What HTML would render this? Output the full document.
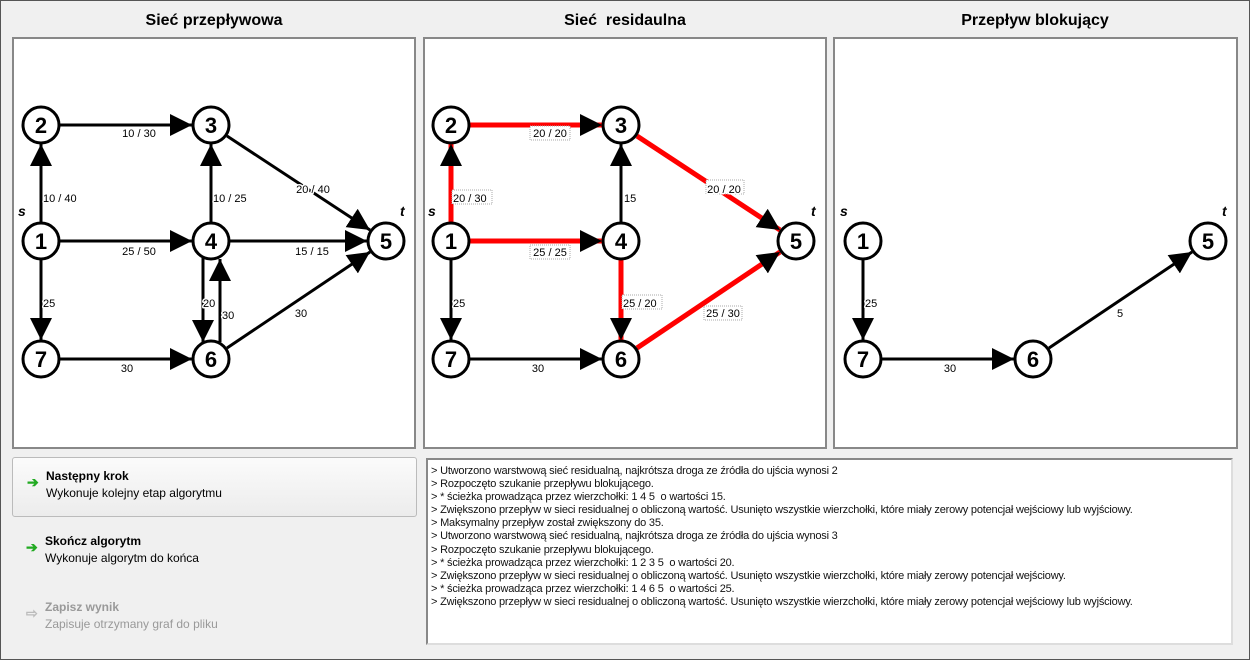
<!DOCTYPE html>
<html><head><meta charset="utf-8"><style>
body{margin:0;width:1250px;height:660px;background:#f0f0f0;font-family:"Liberation Sans",sans-serif;overflow:hidden;position:relative}
.frame{position:absolute;left:0;top:0;width:1248px;height:658px;border:1px solid #555}
.title{position:absolute;top:12px;font-weight:bold;font-size:16px;text-align:center;width:402px}
.log{position:absolute;left:426px;top:458px;width:807px;height:187px;background:#fff;border:2px solid #888;border-right-color:#ddd;border-bottom-color:#ddd;font-size:11px;line-height:13.1px;padding:5px 0 0 3px;box-sizing:border-box;color:#111;letter-spacing:-0.2px}
.btn{position:absolute;left:12px;width:403px;height:58px;font-size:12px}
.btn b{display:block;font-size:12px;margin-bottom:3px}
.btn .t{position:absolute;left:33px;top:11px}
.btn .ic{position:absolute;left:14px;top:16px;color:#2a2;font-size:14px;font-weight:bold}
</style></head><body>
<div class="frame"></div>
<div class="title" style="left:13px">Sieć przepływowa</div>
<div class="title" style="left:424px">Sieć&nbsp; residaulna</div>
<div class="title" style="left:834px">Przepływ blokujący</div>
<svg width="1250" height="660" style="position:absolute;left:0;top:0">
<defs><marker id="a" markerUnits="userSpaceOnUse" markerWidth="24" markerHeight="24" refX="22" refY="11" orient="auto"><path d="M0,0L22,11L0,22z" fill="#000"/></marker></defs>
<g fill="#fff" stroke="#888" stroke-width="2">
<rect x="13" y="38" width="402" height="410"/><rect x="424" y="38" width="402" height="410"/><rect x="834" y="38" width="403" height="410"/>
</g>
<g stroke="#000" stroke-width="3" marker-end="url(#a)">
<line x1="41" y1="222" x2="41" y2="144"/><line x1="60" y1="125" x2="192" y2="125"/><line x1="60" y1="241" x2="192" y2="241"/>
<line x1="41" y1="260" x2="41" y2="340"/><line x1="60" y1="359" x2="192" y2="359"/><line x1="211" y1="222" x2="211" y2="144"/>
<line x1="227" y1="136" x2="370" y2="230"/><line x1="230" y1="241" x2="367" y2="241"/><line x1="227" y1="348" x2="370" y2="252"/>
<line x1="203" y1="258" x2="203" y2="342"/><line x1="220" y1="342" x2="220" y2="259"/>
<line x1="451" y1="260" x2="451" y2="340"/><line x1="470" y1="359" x2="602" y2="359"/><line x1="621" y1="222" x2="621" y2="144"/>
<line x1="863" y1="260" x2="863" y2="340"/><line x1="882" y1="359" x2="1014" y2="359"/><line x1="1049" y1="348" x2="1192" y2="252"/>
</g>
<g stroke="#f00" stroke-width="5" marker-end="url(#a)">
<line x1="451" y1="222" x2="451" y2="144"/><line x1="470" y1="125" x2="602" y2="125"/><line x1="470" y1="241" x2="602" y2="241"/>
<line x1="637" y1="136" x2="780" y2="230"/><line x1="621" y1="260" x2="621" y2="340"/><line x1="637" y1="348" x2="780" y2="252"/>
</g>
<g fill="#fff" stroke="#000" stroke-width="3">
<circle cx="41" cy="241" r="18"/><circle cx="41" cy="125" r="18"/><circle cx="211" cy="125" r="18"/><circle cx="211" cy="241" r="18"/><circle cx="386" cy="241" r="18"/><circle cx="211" cy="359" r="18"/><circle cx="41" cy="359" r="18"/>
<circle cx="451" cy="241" r="18"/><circle cx="451" cy="125" r="18"/><circle cx="621" cy="125" r="18"/><circle cx="621" cy="241" r="18"/><circle cx="796" cy="241" r="18"/><circle cx="621" cy="359" r="18"/><circle cx="451" cy="359" r="18"/>
<circle cx="863" cy="241" r="18"/><circle cx="1208" cy="241" r="18"/><circle cx="1033" cy="359" r="18"/><circle cx="863" cy="359" r="18"/>
</g>
<g font-size="22" font-weight="bold" text-anchor="middle" font-family="Liberation Sans,sans-serif">
<text x="41" y="249">1</text><text x="41" y="133">2</text><text x="211" y="133">3</text><text x="211" y="249">4</text><text x="386" y="249">5</text><text x="211" y="367">6</text><text x="41" y="367">7</text>
<text x="451" y="249">1</text><text x="451" y="133">2</text><text x="621" y="133">3</text><text x="621" y="249">4</text><text x="796" y="249">5</text><text x="621" y="367">6</text><text x="451" y="367">7</text>
<text x="863" y="249">1</text><text x="1208" y="249">5</text><text x="1033" y="367">6</text><text x="863" y="367">7</text>
</g>
<g font-size="14" font-weight="bold" font-style="italic">
<text x="18" y="216">s</text><text x="400" y="216">t</text><text x="428" y="216">s</text><text x="811" y="216">t</text><text x="840" y="216">s</text><text x="1222" y="216">t</text>
</g>
<g fill="#fff" stroke="#aaa" stroke-width="1" stroke-dasharray="1,1">
<rect x="530" y="126" width="40" height="14"/><rect x="706" y="180" width="38" height="14"/><rect x="530" y="245" width="40" height="14"/>
<rect x="704" y="306" width="38" height="14"/><rect x="452" y="190" width="40" height="14"/><rect x="622" y="295" width="40" height="14"/>
</g>
<g font-size="11" fill="#000" stroke="#fff" stroke-width="3" paint-order="stroke" stroke-linejoin="round">
<g text-anchor="middle">
<text x="139" y="137">10 / 30</text><text x="313" y="193">20 / 40</text><text x="139" y="255">25 / 50</text><text x="312" y="255">15 / 15</text><text x="301" y="317">30</text><text x="127" y="372">30</text>
<text x="550" y="137">20 / 20</text><text x="724" y="193">20 / 20</text><text x="550" y="256">25 / 25</text><text x="723" y="317">25 / 30</text><text x="538" y="372">30</text>
<text x="950" y="372">30</text><text x="1120" y="317">5</text>
</g>
<text x="43" y="202">10 / 40</text><text x="213" y="202">10 / 25</text><text x="43" y="307">25</text><text x="203" y="307">20</text><text x="222" y="319">30</text>
<text x="453" y="202">20 / 30</text><text x="624" y="202">15</text><text x="453" y="307">25</text><text x="623" y="307">25 / 20</text>
<text x="865" y="307">25</text>
</g>
</svg>
<div class="btn" style="top:457px;background:linear-gradient(#fbfbfb,#ececec);border:1px solid #bbb;border-radius:3px"><span class="ic">➔</span><div class="t"><b>Następny krok</b>Wykonuje kolejny etap algorytmu</div></div>
<div class="btn" style="top:523px"><span class="ic">➔</span><div class="t"><b>Skończ algorytm</b>Wykonuje algorytm do końca</div></div>
<div class="btn" style="top:589px;color:#999"><span class="ic" style="color:#bbb">⇨</span><div class="t"><b>Zapisz wynik</b>Zapisuje otrzymany graf do pliku</div></div>
<div class="log">&gt; Utworzono warstwową sieć residualną, najkrótsza droga ze źródła do ujścia wynosi 2<br>&gt; Rozpoczęto szukanie przepływu blokującego.<br>&gt; * ścieżka prowadząca przez wierzchołki: 1 4 5&nbsp; o wartości 15.<br>&gt; Zwiększono przepływ w sieci residualnej o obliczoną wartość. Usunięto wszystkie wierzchołki, które miały zerowy potencjał wejściowy lub wyjściowy.<br>&gt; Maksymalny przepływ został zwiększony do 35.<br>&gt; Utworzono warstwową sieć residualną, najkrótsza droga ze źródła do ujścia wynosi 3<br>&gt; Rozpoczęto szukanie przepływu blokującego.<br>&gt; * ścieżka prowadząca przez wierzchołki: 1 2 3 5&nbsp; o wartości 20.<br>&gt; Zwiększono przepływ w sieci residualnej o obliczoną wartość. Usunięto wszystkie wierzchołki, które miały zerowy potencjał wejściowy.<br>&gt; * ścieżka prowadząca przez wierzchołki: 1 4 6 5&nbsp; o wartości 25.<br>&gt; Zwiększono przepływ w sieci residualnej o obliczoną wartość. Usunięto wszystkie wierzchołki, które miały zerowy potencjał wejściowy lub wyjściowy.</div>
</body></html>
